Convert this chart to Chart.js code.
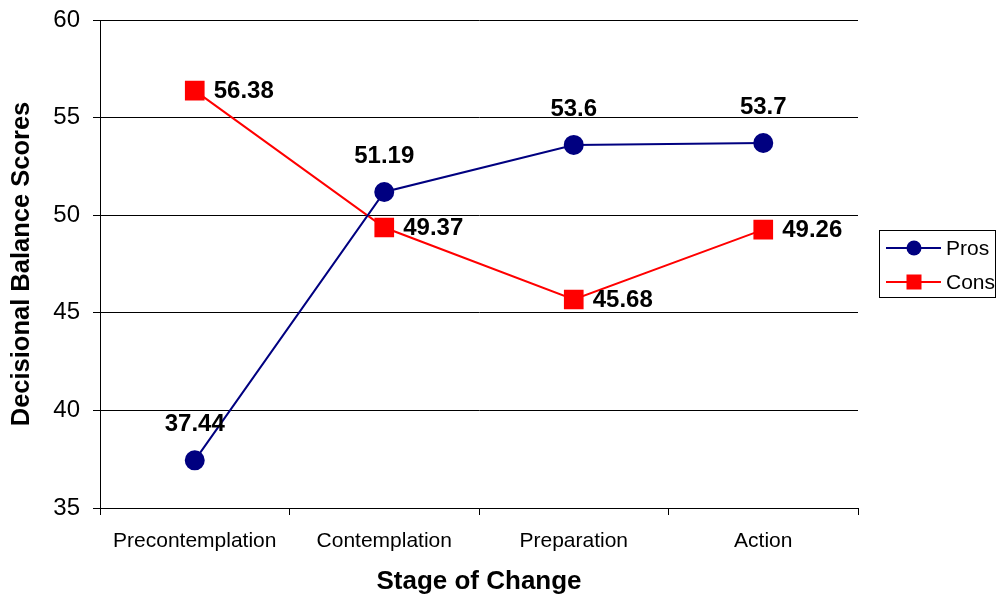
<!DOCTYPE html>
<html>
<head>
<meta charset="utf-8">
<script src="https://cdn.jsdelivr.net/npm/chart.js@4"></script>
<style>
  html, body { margin: 0; padding: 0; background: #fff; }
  #wrap { width: 1002px; height: 597px; }
</style>
</head>
<body>
<div id="wrap"><canvas id="chart" width="1002" height="597"></canvas></div>
<script>
const stages = ['Precontemplation', 'Contemplation', 'Preparation', 'Action']
const pros = [37.44, 51.19, 53.6, 53.7]
const cons = [56.38, 49.37, 45.68, 49.26]
const yTicks = [35, 40, 45, 50, 55, 60]

const FONT = '"Liberation Sans", Arial, sans-serif'

// value labels: pros above the point, cons to the right
const valueLabels = {
    id: 'valueLabels',
    afterDatasetsDraw(chart) {
        const ctx = chart.ctx
        ctx.save()
        ctx.font = 'bold 24px ' + FONT
        ctx.fillStyle = '#000'
        chart.data.datasets.forEach((ds, i) => {
            const meta = chart.getDatasetMeta(i)
            meta.data.forEach((pt, j) => {
                const txt = String(ds.data[j])
                ctx.textBaseline = 'middle'
                if (i == 0) {
                    ctx.textAlign = 'center'
                    ctx.fillText(txt, pt.x, pt.y - 36)
                } else {
                    ctx.textAlign = 'left'
                    ctx.fillText(txt, pt.x + 19, pt.y + 1)
                }
            })
        })
        ctx.restore()
    }
}

// boxed legend on the right
const boxLegend = {
    id: 'boxLegend',
    afterDraw(chart) {
        const ctx = chart.ctx
        ctx.save()
        ctx.strokeStyle = '#000'
        ctx.lineWidth = 1
        ctx.strokeRect(879.5, 230.5, 116, 67)
        ctx.font = '21px ' + FONT
        ctx.textAlign = 'left'
        ctx.textBaseline = 'middle'
        const rows = [248, 282]
        chart.data.datasets.forEach((ds, i) => {
            const y = rows[i]
            ctx.strokeStyle = ds.borderColor
            ctx.lineWidth = 2
            ctx.beginPath()
            ctx.moveTo(886, y)
            ctx.lineTo(941, y)
            ctx.stroke()
            ctx.fillStyle = ds.pointBackgroundColor
            if (ds.pointStyle == 'circle') {
                ctx.beginPath()
                ctx.arc(914, y, 7.5, 0, Math.PI * 2)
                ctx.fill()
            } else {
                ctx.fillRect(906.5, y - 7.5, 15, 15)
            }
            ctx.fillStyle = '#000'
            ctx.fillText(ds.label, 946, y + 1)
        })
        ctx.restore()
    }
}

new Chart(document.getElementById('chart'), {
    type: 'line',
    data: {
        labels: stages,
        datasets: [
            {
                label: 'Pros',
                data: pros,
                borderColor: '#000080',
                backgroundColor: '#000080',
                pointBackgroundColor: '#000080',
                pointBorderColor: '#000080',
                pointStyle: 'circle',
                pointRadius: 9,
                borderWidth: 2
            },
            {
                label: 'Cons',
                data: cons,
                borderColor: '#ff0000',
                backgroundColor: '#ff0000',
                pointBackgroundColor: '#ff0000',
                pointBorderColor: '#ff0000',
                pointStyle: 'rect',
                pointRadius: 12.5,
                borderWidth: 2
            }
        ]
    },
    options: {
        responsive: false,
        animation: false,
        layout: { padding: { left: 0, right: 144, top: 20, bottom: 0 } },
        plugins: {
            legend: { display: false },
            tooltip: { enabled: false }
        },
        scales: {
            x: {
                offset: true,
                grid: {
                    offset: true,
                    drawOnChartArea: false,
                    color: '#000',
                    tickLength: 7
                },
                border: { color: '#000', width: 1 },
                ticks: {
                    color: '#000',
                    font: { family: FONT, size: 21 },
                    padding: 14,
                    maxRotation: 0
                },
                title: {
                    display: true,
                    text: 'Stage of Change',
                    color: '#000',
                    font: { family: FONT, size: 26, weight: 'bold' },
                    padding: { top: 0, bottom: 0 }
                },
                afterFit(scale) { scale.height = 89 }
            },
            y: {
                min: 35,
                max: 60,
                afterBuildTicks(scale) {
                    scale.ticks = yTicks.map(v => ({ value: v }))
                },
                grid: {
                    color: '#000',
                    tickLength: 7
                },
                border: { color: '#000', width: 1 },
                ticks: {
                    color: '#000',
                    font: { family: FONT, size: 24 },
                    padding: 13
                },
                title: {
                    display: true,
                    text: 'Decisional Balance Scores',
                    color: '#000',
                    font: { family: FONT, size: 25.5, weight: 'bold' },
                    padding: { top: 7, bottom: 0 }
                },
                afterFit(scale) {
                    scale.width = 100
                    // keep the plot top fixed; the "60" label may overhang
                    scale.paddingTop = 0
                    scale.paddingBottom = 0
                }
            }
        }
    },
    plugins: [valueLabels, boxLegend]
})
</script>
</body>
</html>
